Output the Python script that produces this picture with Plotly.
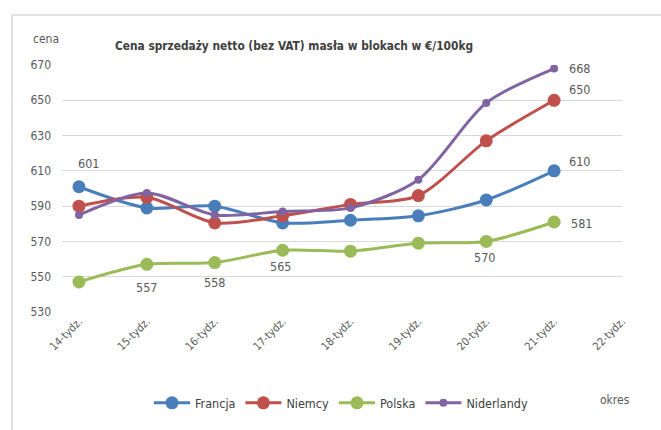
import plotly.graph_objects as go

weeks = ["14-tydz.", "15-tydz.", "16-tydz.", "17-tydz.", "18-tydz.", "19-tydz.", "20-tydz.", "21-tydz.", "22-tydz."]
francja = [601, 589, 590, 580.5, 582, 584.5, 593.5, 610]
niemcy = [590, 595, 580.5, 584.5, 591, 596, 627, 650]
polska = [547, 557, 558, 565, 564.5, 569, 570, 581]
niderlandy = [585, 597.5, 585, 587, 589, 605, 648.5, 668]
y_ticks = [530, 550, 570, 590, 610, 630, 650, 670]

FONT = "Liberation Sans Narrow, DejaVu Sans Condensed, Liberation Sans, sans-serif"
GRAY = "#595959"

series = [
    ("Francja", francja, "#4A7EBB", 13),
    ("Niemcy", niemcy, "#C0504D", 13),
    ("Polska", polska, "#9BBB59", 13),
    ("Niderlandy", niderlandy, "#8064A2", 8),
]

xs = list(range(len(weeks)))
fig = go.Figure()
for name, vals, col, ms in series:
    fig.add_trace(go.Scatter(
        x=xs[:len(vals)], y=vals, name=name, mode="lines+markers",
        line=dict(color=col, width=3, shape="spline", smoothing=0.8),
        marker=dict(color=col, size=ms),
    ))

# data labels: (series values, index, xshift, yshift)
labels = [
    (francja, 0, 10, 23),
    (francja, 7, 25, 9),
    (polska, 1, 0, -23),
    (polska, 2, 0, -20),
    (polska, 3, -2, -16),
    (polska, 6, -2, -16),
    (polska, 7, 27, -1),
    (niemcy, 7, 25, 11),
    (niderlandy, 7, 25, 0),
]
ann = []
for vals, i, dx, dy in labels:
    ann.append(dict(x=xs[i], y=vals[i], text=str(round(vals[i])), showarrow=False,
                    xshift=dx, yshift=dy, font=dict(family=FONT, size=12.5, color=GRAY)))

ann += [
    dict(xref="paper", yref="paper", x=(31 - 62) / 560, y=(317 - 38) / 252, xanchor="left", yanchor="middle",
         text="cena", showarrow=False, font=dict(family=FONT, size=12, color=GRAY)),
    dict(xref="paper", yref="paper", x=(598 - 62) / 560, y=(317 - 407) / 252, xanchor="left", yanchor="middle",
         text="okres", showarrow=False, font=dict(family=FONT, size=12, color=GRAY)),
    dict(xref="paper", yref="paper", x=(113 - 62) / 560, y=(317 - 46) / 252, xanchor="left", yanchor="middle",
         text="<b>Cena sprzedaży netto (bez VAT) masła w blokach w €/100kg</b>", showarrow=False,
         font=dict(family=FONT, size=11.8, color="#404040")),
]

fig.update_layout(
    width=661, height=430,
    margin=dict(l=62, r=39, t=65, b=113),
    paper_bgcolor="white", plot_bgcolor="white",
    showlegend=True,
    legend=dict(orientation="h", x=(341 - 62) / 560, xanchor="center", y=(317 - 410) / 252, yanchor="middle",
                font=dict(family=FONT, size=12.5, color="#404040"), itemwidth=36, tracegroupgap=0),
    annotations=ann,
    shapes=[dict(type="rect", xref="paper", yref="paper",
                 x0=(12 - 62) / 560, x1=(700 - 62) / 560, y0=(317 - 460) / 252, y1=(317 - 14) / 252,
                 line=dict(color="#d9d9d9", width=1.5), layer="below")],
)
fig.update_xaxes(range=[-0.25, 8.0], tickvals=xs, ticktext=weeks, tickangle=-45,
                 showgrid=False, zeroline=False, showline=False, automargin=False,
                 tickfont=dict(family=FONT, size=11, color=GRAY), ticks="")
fig.update_yaxes(range=[530, 670], tickvals=y_ticks, showgrid=True, gridcolor="#d9d9d9", gridwidth=1,
                 zeroline=False, showline=False, ticks="", ticklabelstandoff=10, automargin=False,
                 tickfont=dict(family=FONT, size=12, color=GRAY))

fig.write_html("out.html", config={"displayModeBar": False},
               post_script="document.body.style.margin='0';document.body.style.overflow='hidden';")
